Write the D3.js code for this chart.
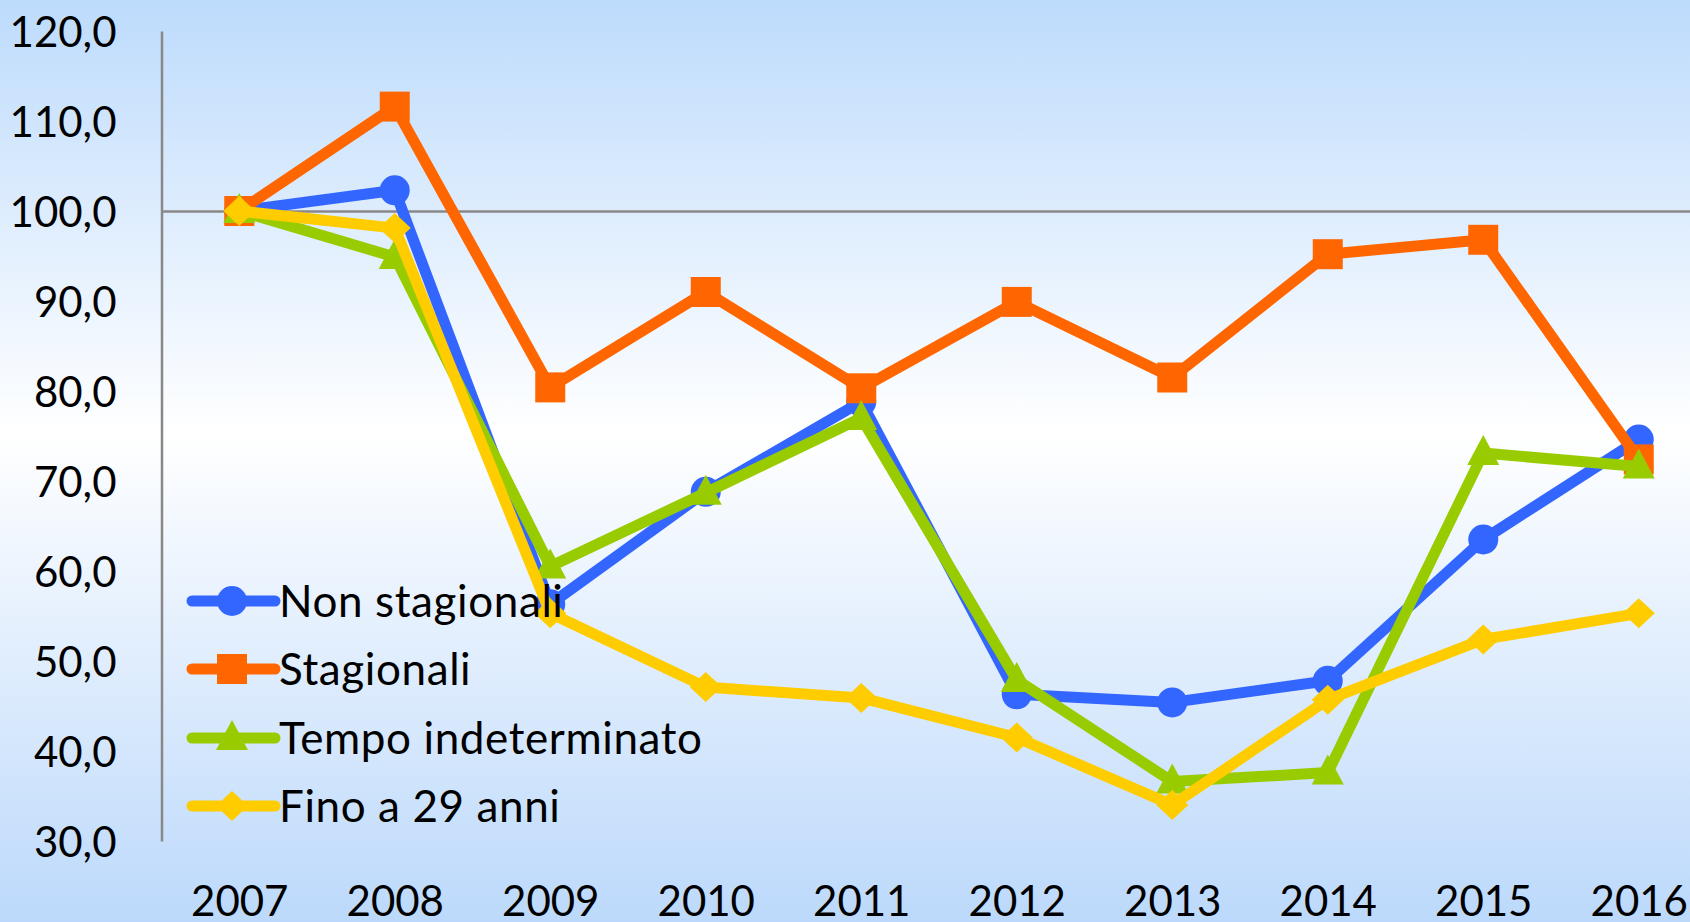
<!DOCTYPE html>
<html>
<head>
<meta charset="utf-8">
<script src="https://cdn.jsdelivr.net/npm/d3@7"></script>
<style>
  html, body { margin: 0; padding: 0; overflow: hidden; }
  svg { display: block; font-family: Lato, "Open Sans", sans-serif; }
</style>
</head>
<body>
<script>
const years = ["2007", "2008", "2009", "2010", "2011", "2012", "2013", "2014", "2015", "2016"];

const nonStagionali = [100, 102.3, 56.3, 68.8, 78.8, 46.3, 45.4, 47.8, 63.5, 74.6];
const stagionali = [100, 111.6, 80.4, 91.0, 80.3, 89.9, 81.5, 95.2, 96.8, 72.4];
const tempoIndeterminato = [100, 94.9, 60.5, 68.7, 77.0, 47.9, 36.6, 37.6, 73.1, 71.6];
const finoA29 = [100, 98.1, 55.3, 47.1, 45.9, 41.5, 34.0, 45.7, 52.4, 55.3];

const seriesNames = ["Non stagionali", "Stagionali", "Tempo indeterminato", "Fino a 29 anni"];
const yTicks = [30, 40, 50, 60, 70, 80, 90, 100, 110, 120];

const width = 1690, height = 922;

const series = [
  { name: seriesNames[0], values: nonStagionali, color: "#3366ff", marker: "circle" },
  { name: seriesNames[1], values: stagionali, color: "#ff6600", marker: "square" },
  { name: seriesNames[2], values: tempoIndeterminato, color: "#99cc00", marker: "triangle" },
  { name: seriesNames[3], values: finoA29, color: "#ffcc00", marker: "diamond" },
];

const svg = d3.select("body").append("svg")
  .attr("width", width)
  .attr("height", height);

// background: blue - white - blue
const grad = svg.append("defs").append("linearGradient")
  .attr("id", "bg").attr("x1", 0).attr("y1", 0).attr("x2", 0).attr("y2", 1);
grad.append("stop").attr("offset", "0%").attr("stop-color", "#bddbfc");
grad.append("stop").attr("offset", "47%").attr("stop-color", "#ffffff");
grad.append("stop").attr("offset", "100%").attr("stop-color", "#bcd9fb");
svg.append("rect").attr("width", width).attr("height", height).attr("fill", "url(#bg)");

const x = d3.scalePoint().domain(years).range([161.5, 1716.5]).padding(0.5);
const y = d3.scaleLinear().domain([30, 120]).range([841, 31]);

const fmt = (d) => d3.format(".1f")(d).replace(".", ",");

// y axis
const yAxis = svg.append("g")
  .attr("transform", `translate(${x.range()[0]},0)`)
  .call(d3.axisLeft(y).tickValues(yTicks).tickFormat(fmt).tickSize(0).tickPadding(45));
yAxis.select(".domain").attr("stroke", "#888").attr("stroke-width", 2.5);
yAxis.selectAll("text")
  .attr("font-family", "Lato, sans-serif")
  .attr("font-size", 42)
  .attr("fill", "#000")
  .attr("dy", "0.36em");

// x axis crosses at 100, labels at the bottom
const xAxis = svg.append("g")
  .attr("transform", `translate(0,${y(100)})`)
  .call(d3.axisBottom(x).tickSize(0).tickSizeOuter(0));
xAxis.select(".domain").attr("stroke", "#888").attr("stroke-width", 2.5);
xAxis.selectAll("text")
  .attr("font-family", "Lato, sans-serif")
  .attr("font-size", 42)
  .attr("fill", "#000")
  .attr("y", 916 - y(100))
  .attr("dy", 0);

const symbolPath = {
  circle: d3.symbol().type(d3.symbolCircle).size(Math.PI * 15 * 15)(),
  square: "M-15,-15H15V15H-15Z",
  triangle: "M0,-18L16,12H-16Z",
  diamond: "M0,-15L16,0L0,15L-16,0Z",
};

const line = d3.line().x((d, i) => x(years[i])).y((d) => y(d));

series.forEach((s) => {
  const g = svg.append("g");
  g.append("path")
    .attr("d", line(s.values))
    .attr("fill", "none")
    .attr("stroke", s.color)
    .attr("stroke-width", 11)
    .attr("stroke-linejoin", "round");
  g.selectAll("path.m")
    .data(s.values)
    .join("path")
    .attr("class", "m")
    .attr("d", symbolPath[s.marker])
    .attr("transform", (d, i) => `translate(${x(years[i])},${y(d)})`)
    .attr("fill", s.color);
});

// legend
const legend = svg.append("g");
const rowY = [601, 669, 738, 806];
series.forEach((s, i) => {
  const r = legend.append("g").attr("transform", `translate(0,${rowY[i]})`);
  r.append("line")
    .attr("x1", 192).attr("x2", 275)
    .attr("stroke", s.color).attr("stroke-width", 11)
    .attr("stroke-linecap", "round");
  r.append("path")
    .attr("d", symbolPath[s.marker])
    .attr("transform", "translate(232,0)")
    .attr("fill", s.color);
  r.append("text")
    .attr("x", 279)
    .attr("dy", "0.36em")
    .attr("font-size", 44)
    .attr("letter-spacing", 0.6)
    .attr("fill", "#000")
    .text(s.name);
});
</script>
</body>
</html>
